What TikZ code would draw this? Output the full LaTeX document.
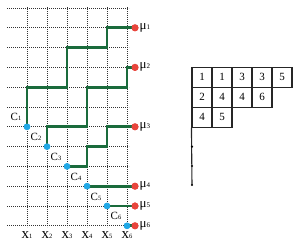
\documentclass[tikz,border=0pt]{standalone}
\usepackage{fontspec}
\setmainfont{Liberation Serif}
\newcommand\mylbl[4]{{\fontsize{#1}{#1}\selectfont #3}{\fontsize{#2}{#2}\selectfont #4}}
\definecolor{pathgreen}{HTML}{1A6B3C}
\definecolor{dotred}{HTML}{E8453C}
\definecolor{dotblue}{HTML}{20A8E6}
\begin{document}
\begin{tikzpicture}[x=1pt,y=-1pt,
  gridline/.style={dash pattern=on 0.7pt off 1.3pt, line width=0.6pt, black!80},
  gpath/.style={pathgreen, line width=2.8pt},
  reddot/.style={circle, fill=dotred, inner sep=0pt, minimum size=7pt},
  bluedot/.style={circle, fill=dotblue, inner sep=0pt, minimum size=6.5pt},
  mulab/.style={anchor=west, inner sep=0pt},
  clab/.style={inner sep=0pt},
  xlab/.style={inner sep=0pt},
  cell/.style={draw=black!85, line width=1.1pt, minimum size=20pt, inner sep=0pt, font=\fontsize{11}{11}\selectfont},
  smalldot/.style={circle, fill=black, inner sep=0pt, minimum size=2.4pt}]
\useasboundingbox (0,0) rectangle (300,245);
% grid
\foreach \r in {0,...,11}{
  \draw[gridline] (7,{8+19.8*\r}) -- (129,{8+19.8*\r});
}
\foreach \c in {1,...,6}{
  \draw[gridline] ({27+20*(\c-1)},7) -- ({27+20*(\c-1)},227);
}
% dots (named)
\node[bluedot] (c1) at (27,126.8) {};
\node[bluedot] (c2) at (47,146.6) {};
\node[bluedot] (c3) at (67,166.4) {};
\node[bluedot] (c4) at (87,186.2) {};
\node[bluedot] (c5) at (107,206) {};
\node[bluedot] (c6) at (127,225.8) {};
\node[reddot] (m1) at (135,27.8) {};
\node[reddot] (m2) at (135,67.4) {};
\node[reddot] (m3) at (135,126.8) {};
\node[reddot] (m4) at (135,186.2) {};
\node[reddot] (m5) at (135,206) {};
\node[reddot] (m6) at (135,225.8) {};
% paths
\draw[gpath] (c1.center) |- (67,87.2) |- (107,47.6) |- (m1.center);
\draw[gpath] (c2.center) |- (87,126.8) |- (127,87.2) |- (m2.center);
\draw[gpath] (c3.center) -| (87,146.6) -| (107,126.8) -- (m3.center);
\draw[gpath] (c4.center) -- (m4.center);
\draw[gpath] (c5.center) -- (m5.center);
\draw[gpath] (c6.center) -- (m6.center);
% redraw dots on top
\foreach \i in {1,...,6}{
  \fill[dotblue] (c\i.center) circle (3.25pt);
  \fill[dotred] (m\i.center) circle (3.5pt);
}
% mu labels
\foreach \i in {1,...,6}{
  \node[mulab] (ml\i) at ([xshift=4.5pt]m\i.center) {\mylbl{13}{7}{μ}{\i}};
}
% C labels
\foreach \i in {1,...,6}{
  \node[clab] (cl\i) at ([shift={(-11,-9.5)}]c\i.center) {\mylbl{11}{6.5}{C}{\i}};
}
% x labels
\foreach \i in {1,...,6}{
  \node[xlab] (xl\i) at ({27+20*(\i-1)},235.5) {\mylbl{15}{6.5}{x}{\i}};
}
% tableau
\node[cell] (t11) at (202,77.3) {1};
\node[cell] (t12) at (222,77.3) {1};
\node[cell] (t13) at (242,77.3) {3};
\node[cell] (t14) at (262,77.3) {3};
\node[cell] (t15) at (282,77.3) {5};
\node[cell] (t21) at (202,97.3) {2};
\node[cell] (t22) at (222,97.3) {4};
\node[cell] (t23) at (242,97.3) {4};
\node[cell] (t24) at (262,97.3) {6};
\node[cell] (t31) at (202,117.3) {4};
\node[cell] (t32) at (222,117.3) {5};
\coordinate (tb) at (192,185);
\draw[line width=1.1pt, black!85] (t31.south west) -- (tb);
\node[smalldot] (d1) at (192,146.6) {};
\node[smalldot] (d2) at (192,166) {};
\node[smalldot] (d3) at (tb) {};
\end{tikzpicture}
\end{document}
